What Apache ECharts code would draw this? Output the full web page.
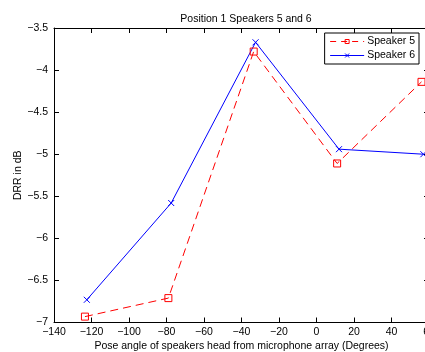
<!DOCTYPE html>
<html>
<head>
<meta charset="utf-8">
<script src="https://cdn.jsdelivr.net/npm/echarts@6/dist/echarts.min.js"></script>
<style>
  html, body { margin: 0; padding: 0; background: #fff; }
  #chart { width: 425px; height: 352px; }
</style>
</head>
<body>
<div id="chart"></div>
<script>
// pose angle (deg) and DRR (dB)
const speaker5Angle = [-123.5, -79, -33.5, 11, 56];
const speaker5Drr = [-6.93, -6.71, -3.78, -5.11, -4.14];
const speaker6Angle = [-122.5, -77.5, -32.5, 12, 57];
const speaker6Drr = [-6.73, -5.58, -3.67, -4.94, -5.0];

const font = 'Liberation Sans, Arial, sans-serif';
const fs = 10.5;
const red = '#ff0000';
const blue = '#0000ff';
const minus = v => String(v).replace('-', '\u2212');

const zip = (xs, ys) => xs.map((x, i) => [x, ys[i]]);

const chart = echarts.init(document.getElementById('chart'));

const axisCommon = {
  axisLine: { show: true, onZero: false, lineStyle: { color: '#000', width: 1 } },
  axisTick: { show: true, inside: true, length: 5, lineStyle: { color: '#000' } },
  splitLine: { show: false },
};

chart.setOption({
  animation: false,
  backgroundColor: '#fff',
  title: {
    text: 'Position 1 Speakers 5 and 6',
    left: 241, top: 9, textAlign: 'center',
    textStyle: { fontFamily: font, fontSize: fs, fontWeight: 'normal', color: '#000' },
  },
  grid: { left: 54, right: -4, top: 28, bottom: 29.5, outerBoundsMode: 'none', containLabel: false },
  legend: {
    right: 6, top: 33,
    orient: 'vertical',
    itemWidth: 34, itemHeight: 5, itemGap: 3,
    padding: [3, 4, 3, 5],
    borderColor: '#000', borderWidth: 1, backgroundColor: '#fff',
    textStyle: { fontFamily: font, fontSize: fs, color: '#000', padding: [0, 0, 0, -2] },
    data: [
      {
        name: 'Speaker 5',
        lineStyle: { color: red, width: 1, type: [6, 5] },
        itemStyle: { color: 'rgba(0,0,0,0)', borderColor: red, borderWidth: 1 },
      },
      {
        name: 'Speaker 6',
        lineStyle: { color: blue, width: 1, type: 'solid' },
        itemStyle: { color: 'rgba(0,0,0,0)', borderColor: blue, borderWidth: 1 },
      },
    ],
  },
  xAxis: [
    Object.assign({
      type: 'value', min: -140, max: 60, interval: 20,
      name: 'Pose angle of speakers head from microphone array (Degrees)',
      nameLocation: 'middle', nameGap: 18, nameMoveOverlap: false,
      nameTextStyle: { fontFamily: font, fontSize: fs, color: '#000' },
      axisLabel: { fontFamily: font, fontSize: fs, color: '#000', margin: 4, formatter: minus },
    }, axisCommon),
    Object.assign({
      type: 'value', min: -140, max: 60, interval: 20, position: 'top',
      axisLabel: { show: false },
    }, axisCommon),
  ],
  yAxis: [
    Object.assign({
      type: 'value', min: -7, max: -3.5, interval: 0.5,
      name: 'DRR in dB',
      nameLocation: 'middle', nameGap: 30, nameMoveOverlap: false,
      nameTextStyle: { fontFamily: font, fontSize: fs, color: '#000' },
      axisLabel: { fontFamily: font, fontSize: fs, color: '#000', margin: 6, formatter: minus },
    }, axisCommon),
    Object.assign({
      type: 'value', min: -7, max: -3.5, interval: 0.5, position: 'right',
      axisLabel: { show: false },
    }, axisCommon),
  ],
  series: [
    {
      name: 'Speaker 5', type: 'line',
      data: zip(speaker5Angle, speaker5Drr),
      symbol: 'rect', symbolSize: 7,
      lineStyle: { color: red, width: 1, type: [8, 5] },
      itemStyle: { color: 'rgba(0,0,0,0)', borderColor: red, borderWidth: 1 },
    },
    {
      name: 'Speaker 6', type: 'line',
      data: zip(speaker6Angle, speaker6Drr),
      symbol: 'path://M0,0L10,10M10,0L0,10', symbolSize: 6,
      lineStyle: { color: blue, width: 1 },
      itemStyle: { color: 'rgba(0,0,0,0)', borderColor: blue, borderWidth: 1 },
    },
  ],
});
</script>
</body>
</html>
